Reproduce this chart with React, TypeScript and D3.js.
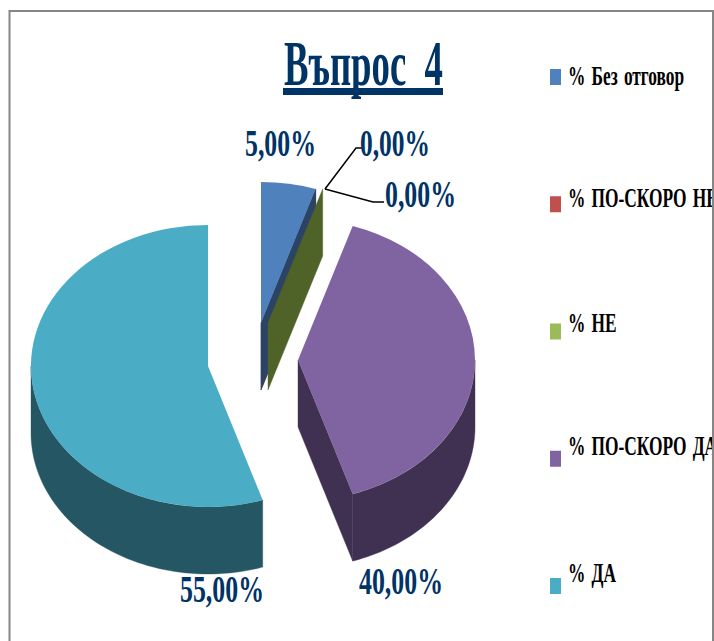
import React from 'react';
import * as d3 from 'd3';

const categories = ['% Без отговор', '% ПО-СКОРО НЕ', '% НЕ', '% ПО-СКОРО ДА', '% ДА'];
const values = [5, 0, 0, 40, 55];
const topColors = ['#4f81bd', '#c0504d', '#9bbb59', '#8064a2', '#4bacc6'];
const sideColors = ['#2b4466', '#632523', '#4f6228', '#403152', '#255664'];

// where each exploded slice has its centre, found by eye
const centers = [[261, 323], [261, 323], [268, 323], [298, 360], [208, 366]];
// value label: left x, baseline, width
const labelBoxes = [[245, 156, 71], [360, 156, 70], [385, 207, 71], [359, 594, 84], [180, 602, 84]];
// legend text baselines are not evenly spaced in the picture
const legendBaselines = [85, 207, 332, 455, 582];
// red has no area and sits behind blue
const drawOrder = [1, 0, 2, 3, 4];

const rx = 177;
const ry = 141;
const depth = 67;
const font = '"Liberation Serif", serif';
const navy = '#003366';

const formatPct = (v: number) => d3.format('.2f')(v).replace('.', ',') + '%';

const pie = d3.pie<number>().sort(null).value((d) => d).startAngle(0).endAngle(Math.PI * 2);
const slices = pie(values);
const arc = d3.arc<d3.PieArcDatum<number>>().innerRadius(0).outerRadius(1);

const legendSwatch = d3.scalePoint<string>().domain(categories).range([69, 578]);

const polar = (a: number, extra = 0): [number, number] => [rx * Math.sin(a), -ry * Math.cos(a) + extra];

// outer wall, only the part that faces the viewer
function wallPath(start: number, end: number) {
  const a0 = Math.max(start, Math.PI / 2);
  const a1 = Math.min(end, Math.PI * 1.5);
  if (a1 <= a0) return null;
  const angles = d3.range(0, 61).map((i) => a0 + ((a1 - a0) * i) / 60);
  const pts = [...angles.map((a) => polar(a)), ...angles.slice().reverse().map((a) => polar(a, depth))];
  return d3.line()(pts) + 'Z';
}

// the cut face along the clockwise edge of a slice
function cutPath(a: number) {
  const [x, y] = polar(a);
  return d3.line()([[0, 0], [x, y], [x, y + depth], [0, depth]]) + 'Z';
}

export default function App() {
  return (
    <svg width={714} height={641} style={{ position: 'absolute', left: 0, top: 0, background: '#fff' }}>
      {drawOrder.map((i) => {
        const s = slices[i];
        const [cx, cy] = centers[i];
        const wall = wallPath(s.startAngle, s.endAngle);
        const showCut = s.endAngle < Math.PI;
        return (
          <g key={categories[i]} transform={`translate(${cx},${cy})`}>
            {showCut && <path d={cutPath(s.endAngle)} fill={sideColors[i]} stroke={sideColors[i]} strokeWidth={0.4} />}
            {wall && <path d={wall} fill={sideColors[i]} stroke={sideColors[i]} strokeWidth={0.4} />}
            {s.value > 0 && (
              <path d={arc(s) as string} transform={`scale(${rx},${ry})`} fill={topColors[i]} />
            )}
          </g>
        );
      })}

      <polyline points="325,189 356,148 364,148" fill="none" stroke="#000" strokeWidth={1.5} />
      <polyline points="325,189 373,202 384,202" fill="none" stroke="#000" strokeWidth={1.5} />

      {values.map((v, i) => (
        <text
          key={i}
          x={labelBoxes[i][0]}
          y={labelBoxes[i][1]}
          textLength={labelBoxes[i][2]}
          lengthAdjust="spacingAndGlyphs"
          fontFamily={font}
          fontWeight="bold"
          fontSize={37}
          fill={navy}
        >
          {formatPct(v)}
        </text>
      ))}

      <text
        x={284}
        y={85}
        textLength={159}
        lengthAdjust="spacingAndGlyphs"
        fontFamily={font}
        fontWeight="bold"
        fontSize={63}
        fill={navy}
        style={{ whiteSpace: 'pre' }}
      >
        Въпрос  4
      </text>
      <rect x={283} y={88} width={160} height={7} fill={navy} />

      {categories.map((c, i) => (
        <g key={c}>
          <rect x={550} y={legendSwatch(c)} width={11} height={16} fill={topColors[i]} />
          <text
            transform={`translate(568,${legendBaselines[i]}) scale(0.62,1)`}
            fontFamily={font}
            fontWeight="bold"
            fontSize={28}
            wordSpacing={3}
            fill="#000"
            style={{ whiteSpace: 'pre' }}
          >
            {c}
          </text>
        </g>
      ))}

      <path d="M9.5,641V11H713V641" fill="none" stroke="#868686" strokeWidth={2} />
    </svg>
  );
}
